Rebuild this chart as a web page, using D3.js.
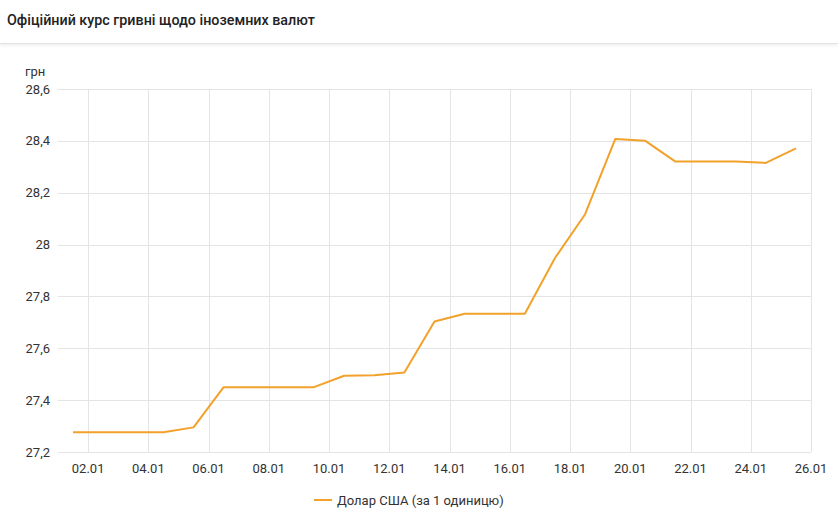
<!DOCTYPE html>
<html>
<head>
<meta charset="utf-8">
<script src="https://cdn.jsdelivr.net/npm/d3@7"></script>
<style>
  body { margin: 0; background: #fff; font-family: Roboto, "Noto Sans", sans-serif; }
  .title_bar {
    height: 44px; border-bottom: 1px solid #e2e2e2;
    box-shadow: 0 2px 3px rgba(0,0,0,0.06);
    font-size: 14.3px; font-weight: 500; color: #222;
    line-height: 40px; padding-left: 7px; box-sizing: border-box;
  }
  .grid line { stroke: #e4e4e4; stroke-width: 1; }
  .tick_label { font-size: 13px; fill: #333; }
</style>
</head>
<body>
<div class="title_bar">Офіційний курс гривні щодо іноземних валют</div>
<div id="chart"></div>
<script>
// days of January (points sit at mid-day)
const days = [1, 2, 3, 4, 5, 6, 7, 8, 9, 10, 11, 12, 13, 14, 15, 16, 17, 18, 19, 20, 21, 22, 23, 24, 25];
const usdRate = [27.276, 27.276, 27.276, 27.276, 27.295, 27.450, 27.450, 27.450, 27.450, 27.494, 27.496, 27.507,
    27.703, 27.733, 27.733, 27.733, 27.948, 28.117, 28.407, 28.400, 28.320, 28.320, 28.320, 28.315, 28.371];
const yTicks = [27.2, 27.4, 27.6, 27.8, 28, 28.2, 28.4, 28.6];
const xTicks = [2, 4, 6, 8, 10, 12, 14, 16, 18, 20, 22, 24, 26];
const seriesName = "Долар США (за 1 одиницю)";
const unitLabel = "грн";

const width = 838, height = 473;   // below the 44px title bar
const svgTop = 44;                 // svg offset from page top
let margin = { left: 58, right: 27, top: 89 - svgTop, bottom: 473 - (452 - svgTop) };

let svg = d3.select("#chart").append("svg")
    .attr("width", width)
    .attr("height", height)
    .style("display", "block");

let x = d3.scaleLinear().domain([1, 26]).range([margin.left, width - margin.right]);
let y = d3.scaleLinear().domain([27.2, 28.6]).range([height - margin.bottom, margin.top]);

//grid
let grid = svg.append("g").attr("class", "grid");
grid.selectAll(".hline")
    .data(yTicks)
    .enter()
    .append("line")
    .attr("x1", x(1)).attr("x2", x(26))
    .attr("y1", d => Math.round(y(d)) + 0.5)
    .attr("y2", d => Math.round(y(d)) + 0.5);
grid.selectAll(".vline")
    .data(xTicks)
    .enter()
    .append("line")
    .attr("x1", d => Math.round(x(d)) + 0.5)
    .attr("x2", d => Math.round(x(d)) + 0.5)
    .attr("y1", y(28.6)).attr("y2", y(27.2));

//y labels
svg.selectAll(".ylab")
    .data(yTicks)
    .enter()
    .append("text")
    .attr("class", "tick_label")
    .attr("x", 50)
    .attr("y", d => y(d))
    .attr("dy", "0.35em")
    .attr("text-anchor", "end")
    .text(d => d3.format("~g")(d).replace(".", ","));

svg.append("text")
    .attr("class", "tick_label")
    .attr("x", 25)
    .attr("y", 71 - svgTop)
    .attr("dy", "0.35em")
    .text(unitLabel);

//x labels
svg.selectAll(".xlab")
    .data(xTicks)
    .enter()
    .append("text")
    .attr("class", "tick_label")
    .attr("x", d => x(d))
    .attr("y", 468 - svgTop)
    .attr("dy", "0.35em")
    .attr("text-anchor", "middle")
    .text(d => d3.format("02d")(d) + ".01");

//line
let line = d3.line()
    .x((d, i) => x(days[i] + 0.5))
    .y(d => y(d))
    .curve(d3.curveLinear);

svg.append("path")
    .datum(usdRate)
    .attr("d", line)
    .attr("fill", "none")
    .attr("stroke", "#f2a12b")
    .attr("stroke-width", 2)
    .attr("stroke-linejoin", "round");

//legend
let ly = 500 - svgTop;
svg.append("line")
    .attr("x1", 314).attr("x2", 332)
    .attr("y1", ly).attr("y2", ly)
    .attr("stroke", "#f2a12b")
    .attr("stroke-width", 2);
svg.append("text")
    .attr("class", "tick_label")
    .attr("x", 337)
    .attr("y", ly)
    .attr("dy", "0.35em")
    .text(seriesName);
</script>
</body>
</html>
